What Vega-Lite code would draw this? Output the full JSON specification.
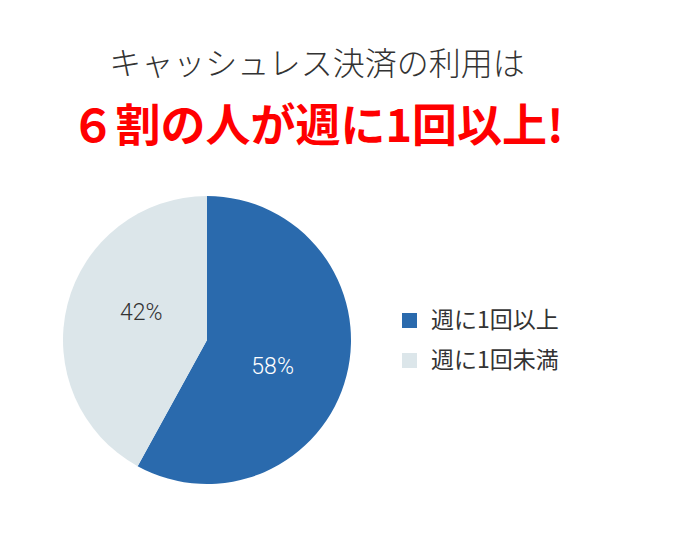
{
  "$schema": "https://vega.github.io/schema/vega-lite/v6.json",
  "width": 288,
  "height": 288,
  "autosize": "none",
  "padding": {"left": 63, "top": 196, "right": 339, "bottom": 62},
  "background": "white",
  "title": {
    "text": "キャッシュレス決済の利用は",
    "subtitle": "６割の人が週に1回以上!",
    "anchor": "middle",
    "dx": 110,
    "offset": 44,
    "font": "Noto Sans CJK JP",
    "fontSize": 32,
    "fontWeight": 300,
    "color": "#333333",
    "subtitleFont": "Noto Sans CJK JP",
    "subtitleFontSize": 45,
    "subtitleFontWeight": "bold",
    "subtitleColor": "#ff0000",
    "subtitlePadding": 24
  },
  "data": {
    "values": [
      {"category": "週に1回以上", "value": 58, "label": "58%"},
      {"category": "週に1回未満", "value": 42, "label": "42%"}
    ]
  },
  "config": {"view": {"stroke": null}},
  "encoding": {
    "theta": {"field": "value", "type": "quantitative", "stack": true},
    "order": {"field": "category", "sort": "ascending"}
  },
  "layer": [
    {
      "mark": {"type": "arc", "outerRadius": 144},
      "encoding": {
        "color": {
          "field": "category",
          "type": "nominal",
          "scale": {"domain": ["週に1回以上", "週に1回未満"], "range": ["#2a6aad", "#dce6ea"]},
          "legend": {
            "title": null,
            "orient": "none",
            "legendX": 335,
            "legendY": 113,
            "symbolType": "square",
            "symbolSize": 225,
            "symbolStrokeWidth": 0,
            "labelFont": "Noto Sans CJK JP",
            "labelFontSize": 23,
            "labelColor": "#333333",
            "labelOffset": 10,
            "rowPadding": 16
          }
        }
      }
    },
    {
      "mark": {"type": "text", "radius": 71, "thetaOffset": 0.14, "font": "Roboto", "fontWeight": 300, "fontSize": 23, "align": "center", "baseline": "middle"},
      "encoding": {
        "text": {"field": "label"},
        "color": {
          "condition": {"test": "datum.category === '週に1回以上'", "value": "#ffffff"},
          "value": "#333333"
        }
      }
    }
  ]
}
